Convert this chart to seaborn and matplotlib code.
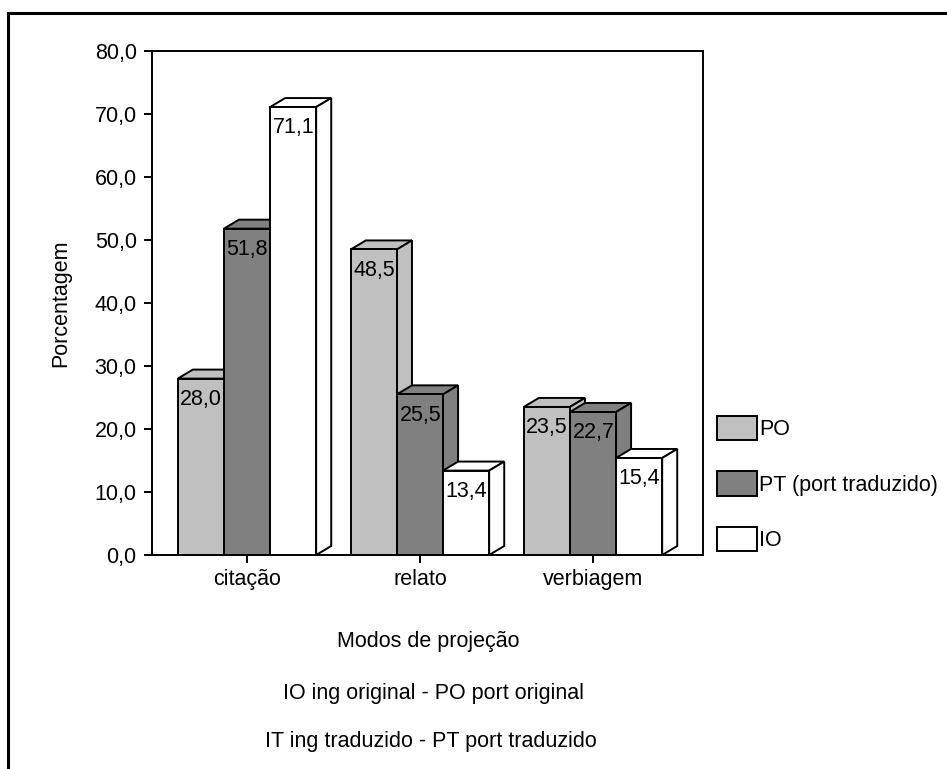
import matplotlib
matplotlib.use("Agg")
import matplotlib.pyplot as plt
import seaborn as sns
import pandas as pd
from matplotlib.patches import Polygon, Rectangle, Patch
from matplotlib.ticker import FuncFormatter, MultipleLocator

categories = ["citação", "relato", "verbiagem"]
series_names = ["PO", "PT (port traduzido)", "IO"]
po_values = [28.0, 48.5, 23.5]
pt_values = [51.8, 25.5, 22.7]
io_values = [71.1, 13.4, 15.4]
colors = ["#c0c0c0", "#808080", "#ffffff"]

rows = []
for name, vals in zip(series_names, [po_values, pt_values, io_values]):
    for c, v in zip(categories, vals):
        rows.append({"Modo": c, "Serie": name, "Valor": v})
df = pd.DataFrame(rows)

sns.set_theme(style="white")
plt.rcParams["font.family"] = ["Liberation Sans", "DejaVu Sans"]
plt.rcParams["text.color"] = "black"
plt.rcParams["axes.labelcolor"] = "black"
plt.rcParams["xtick.color"] = "black"
plt.rcParams["ytick.color"] = "black"
FS = 15.5

fig = plt.figure(figsize=(9.47, 7.69), dpi=100)
ax = fig.add_axes([152/947, 1-555/769, (703-152)/947, (555-51)/769])

sns.barplot(data=df, x="Modo", y="Valor", hue="Serie", order=categories,
            hue_order=series_names, palette=colors, saturation=1,
            edgecolor="black", linewidth=1.4, legend=False, ax=ax, errorbar=None)

ax.set_xlim(-0.549, 2.636)
ax.set_ylim(0, 80)

dx, dy = 0.087, 1.43
bars = sorted(ax.patches, key=lambda p: p.get_x())
for k, p in enumerate(bars):
    x0 = p.get_x(); w = p.get_width(); h = p.get_height()
    fc = p.get_facecolor()
    base = 2 + 2*k
    p.set_zorder(base + 1)
    top = Polygon([(x0, h), (x0+w, h), (x0+w+dx, h+dy), (x0+dx, h+dy)],
                  closed=True, facecolor=fc, edgecolor="black", linewidth=1.4,
                  zorder=base, joinstyle="miter")
    side = Polygon([(x0+w, 0), (x0+w+dx, dy), (x0+w+dx, h+dy), (x0+w, h)],
                   closed=True, facecolor=fc, edgecolor="black", linewidth=1.4,
                   zorder=base, joinstyle="miter")
    ax.add_patch(top); ax.add_patch(side)
    ax.text(x0 + 0.015, h - 3.3, f"{h:.1f}".replace(".", ","), ha="left",
            va="center", fontsize=FS, color="black", zorder=100)

ax.yaxis.set_major_locator(MultipleLocator(10))
ax.yaxis.set_major_formatter(FuncFormatter(lambda v, _: f"{v:.1f}".replace(".", ",")))
ax.tick_params(axis="both", labelsize=FS, length=6, width=1.4, color="black",
               labelcolor="black", direction="out", left=True, bottom=True)
ax.tick_params(axis="y", pad=5)
ax.tick_params(axis="x", pad=4)
for s in ax.spines.values():
    s.set_visible(True); s.set_color("black"); s.set_linewidth(1.4)
ax.set_xlabel("")
ax.set_ylabel("Porcentagem", fontsize=FS, color="black")
ax.yaxis.set_label_coords((71-152)/(703-152), 0.5)
ax.grid(False)

fig.text(428/947, 1-642/769, "Modos de projeção", ha="center", va="center", fontsize=FS)
fig.text(433/947, 1-693/769, "IO ing original - PO port original", ha="center", va="center", fontsize=FS)
fig.text(431/947, 1-742/769, "IT ing traduzido - PT port traduzido", ha="center", va="center", fontsize=FS)

handles = [Patch(facecolor=c, edgecolor="black", linewidth=1.4) for c in colors]
fig.legend(handles, series_names, loc="center left",
           bbox_to_anchor=(717/947, 1-483.5/769), frameon=False, fontsize=FS,
           handlelength=1.86, handleheight=1.35, handletextpad=0.1,
           labelspacing=1.45, borderpad=0, borderaxespad=0)

fig.patches.append(Rectangle((8/947, -0.1), 1.2, 1-13/769+0.1, transform=fig.transFigure,
                             fill=False, edgecolor="black", linewidth=2.2, figure=fig))

fig.savefig("out.png", dpi=100)
